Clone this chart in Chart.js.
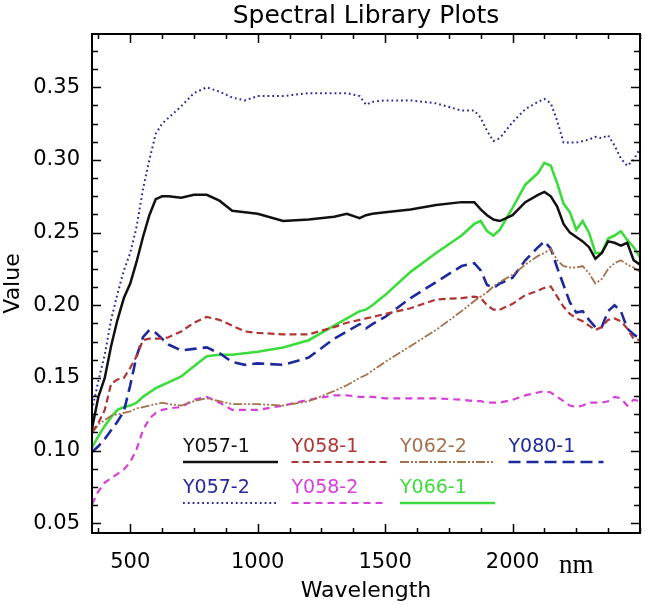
<!DOCTYPE html>
<html>
<head>
<meta charset="utf-8">
<title>Spectral Library Plots</title>
<script src="https://cdn.jsdelivr.net/npm/chart.js@4.4.1/dist/chart.umd.min.js"></script>
<style>
  html, body { margin: 0; padding: 0; background: #fff; }
  canvas { display: block; }
</style>
</head>
<body>
<canvas id="chart" width="645" height="605"></canvas>
<script>
// wavelength samples (nm) shared by all spectra
const wavelengths = [350, 375, 400, 425, 450, 475, 500, 525, 550, 575, 600, 625, 650, 700, 750, 800, 850, 900, 950, 1000,
  1100, 1200, 1300, 1350, 1400, 1425, 1450, 1500, 1600, 1700, 1800, 1850, 1875, 1900, 1925, 1950, 2000, 2050, 2100, 2125,
  2150, 2175, 2200, 2225, 2250, 2275, 2300, 2325, 2350, 2375, 2400, 2425, 2450, 2475, 2500];

const y057_1 = [0.115, 0.137, 0.150, 0.172, 0.190, 0.205, 0.215, 0.230, 0.247, 0.262, 0.273, 0.275, 0.275, 0.274, 0.276, 0.276, 0.272, 0.265, 0.264, 0.263,
  0.258, 0.259, 0.261, 0.263, 0.260, 0.262, 0.263, 0.264, 0.266, 0.269, 0.271, 0.271, 0.266, 0.262, 0.259, 0.258, 0.262, 0.271, 0.276, 0.278,
  0.275, 0.268, 0.256, 0.250, 0.247, 0.244, 0.240, 0.232, 0.236, 0.244, 0.243, 0.241, 0.243, 0.231, 0.228];

const y058_1 = [0.113, 0.119, 0.128, 0.146, 0.149, 0.150, 0.157, 0.165, 0.176, 0.177, 0.177, 0.177, 0.178, 0.182, 0.188, 0.192, 0.190, 0.186, 0.182, 0.181,
  0.180, 0.180, 0.185, 0.188, 0.190, 0.191, 0.192, 0.194, 0.198, 0.204, 0.205, 0.206, 0.205, 0.200, 0.197, 0.197, 0.201, 0.207, 0.210, 0.212,
  0.213, 0.206, 0.199, 0.194, 0.191, 0.189, 0.186, 0.183, 0.185, 0.190, 0.191, 0.189, 0.184, 0.177, 0.176];

const y062_2 = [0.112, 0.118, 0.121, 0.124, 0.125, 0.126, 0.127, 0.129, 0.130, 0.131, 0.132, 0.133, 0.132, 0.131, 0.134, 0.136, 0.134, 0.132, 0.132, 0.132,
  0.131, 0.134, 0.141, 0.145, 0.150, 0.152, 0.155, 0.161, 0.172, 0.183, 0.196, 0.203, 0.206, 0.209, 0.213, 0.216, 0.221, 0.228, 0.234, 0.236,
  0.239, 0.231, 0.227, 0.226, 0.226, 0.227, 0.222, 0.215, 0.218, 0.225, 0.229, 0.231, 0.228, 0.226, 0.223];

const y080_1 = [0.099, 0.103, 0.108, 0.114, 0.120, 0.127, 0.145, 0.165, 0.178, 0.183, 0.181, 0.177, 0.173, 0.169, 0.170, 0.171, 0.167, 0.161, 0.159, 0.160,
  0.159, 0.164, 0.177, 0.182, 0.187, 0.184, 0.187, 0.192, 0.205, 0.216, 0.227, 0.229, 0.224, 0.214, 0.212, 0.215, 0.219, 0.231, 0.240, 0.244,
  0.239, 0.226, 0.214, 0.202, 0.195, 0.196, 0.190, 0.185, 0.185, 0.196, 0.200, 0.196, 0.184, 0.180, 0.177];

const y057_2 = [0.128, 0.148, 0.166, 0.190, 0.208, 0.224, 0.236, 0.254, 0.280, 0.300, 0.318, 0.325, 0.329, 0.337, 0.346, 0.350, 0.347, 0.343, 0.341, 0.344,
  0.344, 0.346, 0.346, 0.346, 0.344, 0.338, 0.340, 0.341, 0.341, 0.339, 0.334, 0.334, 0.329, 0.320, 0.313, 0.315, 0.326, 0.335, 0.340, 0.342,
  0.339, 0.327, 0.312, 0.312, 0.312, 0.313, 0.314, 0.316, 0.315, 0.317, 0.310, 0.301, 0.296, 0.300, 0.308];

const y058_2 = [0.063, 0.072, 0.078, 0.081, 0.084, 0.087, 0.092, 0.101, 0.114, 0.122, 0.126, 0.128, 0.129, 0.130, 0.135, 0.137, 0.133, 0.128, 0.128, 0.128,
  0.131, 0.135, 0.138, 0.138, 0.137, 0.137, 0.137, 0.136, 0.136, 0.136, 0.135, 0.134, 0.134, 0.133, 0.133, 0.133, 0.135, 0.138, 0.140, 0.141,
  0.140, 0.137, 0.134, 0.131, 0.130, 0.131, 0.133, 0.133, 0.133, 0.134, 0.137, 0.136, 0.131, 0.135, 0.134];

const y066_1 = [0.102, 0.110, 0.117, 0.123, 0.128, 0.130, 0.131, 0.133, 0.137, 0.140, 0.143, 0.145, 0.147, 0.151, 0.158, 0.165, 0.166, 0.166, 0.167, 0.168,
  0.171, 0.176, 0.186, 0.191, 0.196, 0.197, 0.200, 0.207, 0.223, 0.236, 0.248, 0.256, 0.258, 0.251, 0.248, 0.252, 0.267, 0.283, 0.291, 0.298,
  0.296, 0.284, 0.270, 0.264, 0.252, 0.258, 0.250, 0.236, 0.236, 0.246, 0.248, 0.251, 0.245, 0.240, 0.233];

// axis ticks (drawn inside the frame), labelled ones listed separately
const xTicks = [375, 500, 625, 750, 875, 1000, 1125, 1250, 1375, 1500, 1625, 1750, 1875, 2000, 2125, 2250, 2375, 2500];
const xMajor = [500, 1000, 1500, 2000];
const xTickLabels = { 500: '500', 1000: '1000', 1500: '1500', 2000: '2000', 2250: 'nm' };

const yTicks = [0.05, 0.0625, 0.075, 0.0875, 0.1, 0.1125, 0.125, 0.1375, 0.15, 0.1625, 0.175, 0.1875, 0.2, 0.2125,
  0.225, 0.2375, 0.25, 0.2625, 0.275, 0.2875, 0.3, 0.3125, 0.325, 0.3375, 0.35, 0.3625, 0.375];
const yTickLabels = [0.05, 0.10, 0.15, 0.20, 0.25, 0.30, 0.35];

const SANS = "'DejaVu Sans', sans-serif";
const isYLabel = v => yTickLabels.some(l => Math.abs(l - v) < 1e-6);

const toPoints = vals => vals.map((v, i) => ({ x: wavelengths[i], y: v }));

// frame + inward ticks on all four sides
const frameTicks = {
    id: 'frameTicks',
    afterDraw(chart) {
        const { ctx, chartArea: a, scales: { x, y } } = chart;
        ctx.save();
        ctx.strokeStyle = '#000';
        ctx.lineWidth = 1.5;
        ctx.beginPath();
        xTicks.forEach(v => {
            const px = Math.round(x.getPixelForValue(v)) + 0.5;
            const len = xMajor.includes(v) ? 9 : 5;
            ctx.moveTo(px, a.bottom); ctx.lineTo(px, a.bottom - len);
            ctx.moveTo(px, a.top); ctx.lineTo(px, a.top + len);
        });
        yTicks.forEach(v => {
            const py = Math.round(y.getPixelForValue(v)) + 0.5;
            const len = isYLabel(v) ? 9 : 6;
            ctx.moveTo(a.left, py); ctx.lineTo(a.left + len, py);
            ctx.moveTo(a.right, py); ctx.lineTo(a.right - len, py);
        });
        ctx.stroke();
        ctx.lineWidth = 2;
        ctx.strokeRect(a.left, a.top, a.right - a.left, a.bottom - a.top);
        ctx.restore();
    }
};

// legend drawn inside the plot: name above a line sample, 4 columns
const inlineLegend = {
    id: 'inlineLegend',
    afterDraw(chart, args, opts) {
        const ctx = chart.ctx;
        ctx.save();
        chart.data.datasets.forEach((ds, i) => {
            const col = i % 4, row = Math.floor(i / 4);
            const x0 = opts.left + col * opts.colWidth;
            const yt = opts.top + row * opts.rowHeight;
            ctx.font = opts.font;
            ctx.fillStyle = ds.borderColor;
            ctx.textAlign = 'left';
            ctx.textBaseline = 'middle';
            ctx.fillText(ds.label, x0, yt);
            ctx.strokeStyle = ds.borderColor;
            ctx.lineWidth = ds.borderWidth;
            ctx.setLineDash(ds.borderDash || []);
            ctx.beginPath();
            ctx.moveTo(x0, yt + opts.lineOffset);
            ctx.lineTo(x0 + opts.lineLength, yt + opts.lineOffset);
            ctx.stroke();
        });
        ctx.restore();
    }
};

const line = (label, vals, color, width, dash) => ({
    label: label,
    data: toPoints(vals),
    borderColor: color,
    borderWidth: width,
    borderDash: dash,
    pointRadius: 0,
    tension: 0,
    fill: false
});

new Chart(document.getElementById('chart'), {
    type: 'line',
    data: {
        datasets: [
            line('Y057-1', y057_1, '#111111', 2.5, []),
            line('Y058-1', y058_1, '#b03434', 2.2, [7, 4]),
            line('Y062-2', y062_2, '#a5704c', 1.8, [9, 2, 2, 2, 2, 2]),
            line('Y080-1', y080_1, '#1c2a9c', 2.6, [12, 6]),
            line('Y057-2', y057_2, '#2a2a9e', 2, [1.8, 3]),
            line('Y058-2', y058_2, '#d83ed8', 2.2, [7, 5]),
            line('Y066-1', y066_1, '#3cdc3c', 2.6, [])
        ]
    },
    options: {
        responsive: false,
        animation: false,
        devicePixelRatio: 1,
        layout: { padding: { left: 0, right: 5, top: 0, bottom: 0 } },
        plugins: {
            legend: { display: false },
            tooltip: { enabled: false },
            title: {
                display: true,
                fullSize: false,
                text: 'Spectral Library Plots',
                color: '#000',
                font: { family: SANS, size: 25, weight: 'normal', lineHeight: 1.2 },
                padding: { top: 1, bottom: 3 }
            },
            inlineLegend: {
                left: 183, top: 447, colWidth: 108.5, rowHeight: 41,
                lineLength: 95, lineOffset: 15,
                font: "19px 'DejaVu Sans', sans-serif"
            }
        },
        scales: {
            x: {
                type: 'linear',
                min: 350,
                max: 2500,
                afterBuildTicks: s => { s.ticks = xTicks.map(v => ({ value: v })); },
                afterFit: s => { s.height = 72; s.paddingLeft = 0; s.paddingRight = 0; },
                grid: { display: false, drawTicks: false },
                border: { display: false },
                ticks: {
                    autoSkip: false,
                    maxRotation: 0,
                    padding: 17,
                    color: '#000',
                    font: c => (c.tick && c.tick.value === 2250)
                        ? { family: "'Liberation Serif', serif", size: 27 }
                        : { family: SANS, size: 21 },
                    callback: v => xTickLabels[v] || ''
                },
                title: {
                    display: true,
                    text: 'Wavelength',
                    color: '#000',
                    font: { family: SANS, size: 22, lineHeight: 1.2 },
                    padding: { top: 0, bottom: 1 }
                }
            },
            y: {
                min: 0.0433,
                max: 0.3867,
                afterBuildTicks: s => { s.ticks = yTicks.map(v => ({ value: v })); },
                afterFit: s => { s.width = 92; s.paddingTop = 0; s.paddingBottom = 0; },
                grid: { display: false, drawTicks: false },
                border: { display: false },
                ticks: {
                    autoSkip: false,
                    padding: 12,
                    color: '#000',
                    font: { family: SANS, size: 21 },
                    callback: v => isYLabel(v) ? v.toFixed(2) : ''
                },
                title: {
                    display: true,
                    text: 'Value',
                    color: '#000',
                    font: { family: SANS, size: 22, lineHeight: 1.2 },
                    padding: { top: 0, bottom: 0 }
                }
            }
        }
    },
    plugins: [frameTicks, inlineLegend]
});
</script>
</body>
</html>
